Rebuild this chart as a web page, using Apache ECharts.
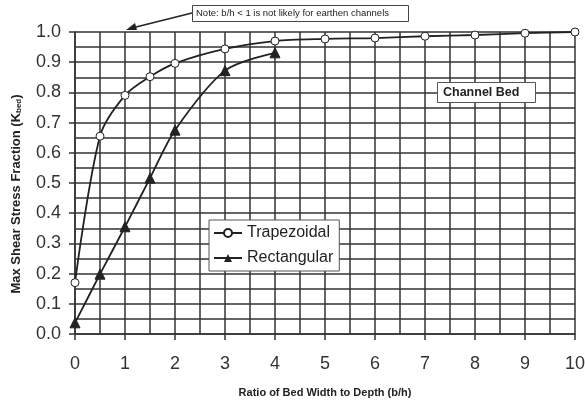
<!DOCTYPE html>
<html>
<head>
<meta charset="utf-8">
<script src="https://cdn.jsdelivr.net/npm/echarts@6/dist/echarts.min.js"></script>
<style>
  html, body { margin: 0; padding: 0; background: #fff; }
  #chart { width: 585px; height: 400px; }
</style>
</head>
<body>
<div id="chart"></div>
<script>
// data
var trapX = [0, 0.5, 1, 1.5, 2, 3, 4, 5, 6, 7, 8, 9, 10];
var trapY = [0.17, 0.655, 0.79, 0.852, 0.896, 0.944, 0.97, 0.977, 0.98, 0.986, 0.99, 0.996, 1.0];
var rectX = [0, 0.5, 1, 1.5, 2, 3, 4];
var rectY = [0.037, 0.198, 0.355, 0.516, 0.675, 0.872, 0.931];
var seriesNames = ["Trapezoidal", "Rectangular"];

function pairs(xs, ys) {
  return xs.map(function (x, i) { return [x, ys[i]]; });
}

var lineColor = "#222";
var gridColor = "#333";
var font = "Liberation Sans, Arial, sans-serif";

var myChart = echarts.init(document.getElementById("chart"));
var option = {
  animation: false,
  backgroundColor: "#fff",
  textStyle: { fontFamily: font },
  grid: { left: 75, right: 10, top: 32, bottom: 66, outerBoundsMode: "none", containLabel: false },
  xAxis: {
    type: "value",
    min: 0,
    max: 10,
    interval: 1,
    name: "Ratio of Bed Width to Depth (b/h)",
    nameLocation: "middle",
    nameGap: 53,
    nameTextStyle: { fontSize: 11, fontWeight: "bold", color: "#222" },
    axisLine: { show: true, lineStyle: { color: gridColor, width: 1.5 } },
    axisTick: { show: true, length: 6, lineStyle: { color: gridColor, width: 1.5 } },
    axisLabel: { fontSize: 18, color: "#333", margin: 21 },
    splitLine: { show: true, lineStyle: { color: gridColor, width: 1.5 } },
    minorTick: { show: true, splitNumber: 2, length: 0 },
    minorSplitLine: { show: true, lineStyle: { color: gridColor, width: 1.5 } },
  },
  yAxis: {
    type: "value",
    min: 0,
    max: 1,
    interval: 0.1,
    name: "{a|Max Shear Stress Fraction (K}{s|bed}{a|)}",
    nameLocation: "middle",
    nameGap: 52,
    nameTextStyle: {
      padding: [0, 22, 0, 0],
      rich: {
        a: { fontSize: 13, fontWeight: "bold", color: "#222", fontFamily: font },
        s: { fontSize: 8, fontWeight: "bold", color: "#222", fontFamily: font, verticalAlign: "bottom", padding: [5, 0, 0, 0] },
      },
    },
    axisLine: { show: true, lineStyle: { color: gridColor, width: 1.5 } },
    axisTick: { show: true, length: 6, lineStyle: { color: gridColor, width: 1.5 } },
    axisLabel: {
      fontSize: 18,
      color: "#333",
      margin: 14,
      formatter: function (v) { return v.toFixed(1); },
    },
    splitLine: { show: true, lineStyle: { color: gridColor, width: 1.5 } },
    minorTick: { show: true, splitNumber: 2, length: 0 },
    minorSplitLine: { show: true, lineStyle: { color: gridColor, width: 1.5 } },
  },
  legend: {
    left: 209,
    top: 220,
    orient: "vertical",
    backgroundColor: "#fff",
    borderColor: "#555",
    borderWidth: 1,
    padding: [5, 6, 5, 4],
    itemGap: 9,
    itemWidth: 28,
    itemHeight: 10,
    textStyle: { fontSize: 16, color: "#222", fontFamily: font },
    data: seriesNames,
  },
  series: [
    {
      name: seriesNames[0],
      type: "line",
      smooth: 0.3,
      data: pairs(trapX, trapY),
      symbol: "circle",
      symbolSize: 8,
      lineStyle: { color: lineColor, width: 1.8 },
      itemStyle: { color: "#fff", borderColor: lineColor, borderWidth: 1 },
      z: 5,
    },
    {
      name: seriesNames[1],
      type: "line",
      smooth: 0.3,
      data: pairs(rectX, rectY),
      symbol: "triangle",
      symbolSize: 10,
      lineStyle: { color: lineColor, width: 1.8 },
      itemStyle: { color: lineColor, borderColor: lineColor },
      z: 5,
    },
  ],
  graphic: [
    {
      type: "rect",
      left: 192,
      top: 5,
      z: 100,
      shape: { width: 216, height: 16 },
      style: { fill: "#fff", stroke: "#444", lineWidth: 1 },
    },
    {
      type: "text",
      left: 196,
      top: 8,
      z: 101,
      style: {
        text: "Note: b/h < 1 is not likely for earthen channels",
        fontSize: 9.5,
        fontFamily: font,
        fill: "#222",
      },
    },
    {
      type: "line",
      z: 100,
      shape: { x1: 192, y1: 13, x2: 132, y2: 28 },
      style: { stroke: "#222", lineWidth: 1.5 },
    },
    {
      type: "polygon",
      z: 100,
      shape: { points: [[126, 30], [135, 23], [137, 30]] },
      style: { fill: "#222" },
    },
    {
      type: "rect",
      left: 437,
      top: 82,
      z: 100,
      shape: { width: 98, height: 20 },
      style: { fill: "#fff", stroke: "#555", lineWidth: 1 },
    },
    {
      type: "text",
      left: 443,
      top: 86,
      z: 101,
      style: {
        text: "Channel Bed",
        fontSize: 12.5,
        fontWeight: "bold",
        fontFamily: font,
        fill: "#222",
      },
    },
  ],
};
myChart.setOption(option);
</script>
</body>
</html>
